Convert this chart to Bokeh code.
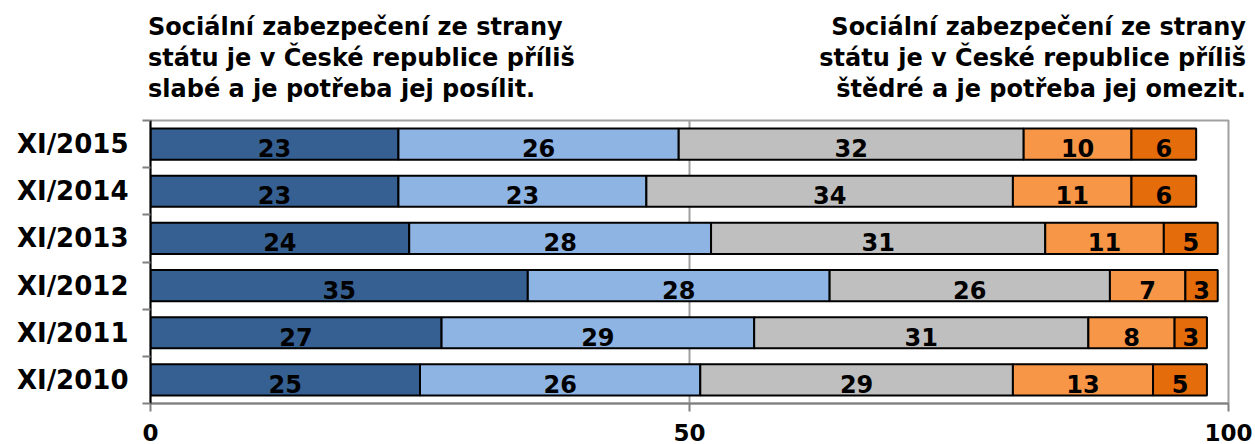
from bokeh.plotting import figure
from bokeh.models import FixedTicker, ColumnDataSource, Div
from bokeh.layouts import column
from bokeh.embed import file_html
from bokeh.resources import INLINE
from bokeh.core.properties import value

categories = ["XI/2015", "XI/2014", "XI/2013", "XI/2012", "XI/2011", "XI/2010"]
s1 = [23, 23, 24, 35, 27, 25]
s2 = [26, 23, 28, 28, 29, 26]
s3 = [32, 34, 31, 26, 31, 29]
s4 = [10, 11, 11, 7, 8, 13]
s5 = [6, 6, 5, 3, 3, 5]
series = [s1, s2, s3, s4, s5]
colors = ["#376092", "#8EB4E3", "#BFBFBF", "#F79646", "#E46C0A"]
x_ticks = [0, 50, 100]
title_left = ["Sociální zabezpečení ze strany",
              "státu je v České republice příliš",
              "slabé a je potřeba jej posílit."]
title_right = ["Sociální zabezpečení ze strany",
               "státu je v České republice příliš",
               "štědré a je potřeba jej omezit."]

FONT = "DejaVu Sans"

W = 1255
DIV_H = 118
FIG_H = 444 - DIV_H
BL, BR, BT, BB = 150, 27, 2, 41

n = len(categories)
ys = [n - i - 0.5 for i in range(n)]
bounds = list(range(n + 1))

p = figure(width=W, height=FIG_H, x_range=(0, 100), y_range=(0, n),
           output_backend="svg", toolbar_location=None,
           min_border_left=BL, min_border_right=BR,
           min_border_top=BT, min_border_bottom=BB, margin=0)

p.background_fill_color = "white"
p.outline_line_color = "#A0A0A0"
p.outline_line_width = 2

left = [0] * n
for vals, col in zip(series, colors):
    right = [l + v for l, v in zip(left, vals)]
    src = ColumnDataSource(dict(
        y=ys, left=left, right=right,
        mid=[(l + r) / 2 for l, r in zip(left, right)],
        txt=[str(v) for v in vals]))
    p.hbar(y="y", left="left", right="right", height=0.66, source=src,
           fill_color=col, line_color="black", line_width=2)
    p.text(x="mid", y="y", text="txt", source=src, text_align="center",
           text_baseline="middle", y_offset=4, text_font=value(FONT),
           text_font_style="bold", text_font_size="24px", text_color="black")
    left = right

# x axis
p.xaxis.ticker = FixedTicker(ticks=x_ticks)
p.xaxis.major_tick_in = 0
p.xaxis.major_tick_out = 8
p.xaxis.major_tick_line_color = "#808080"
p.xaxis.major_tick_line_width = 2
p.xaxis.axis_line_color = "#808080"
p.xaxis.axis_line_width = 2
p.xaxis.minor_tick_line_color = None
p.xaxis.major_label_standoff = 12
p.xaxis.major_label_text_font = FONT
p.xaxis.major_label_text_font_style = "bold"
p.xaxis.major_label_text_font_size = "23px"
p.xaxis.major_label_text_color = "black"

# y axis
p.yaxis.ticker = FixedTicker(ticks=ys, minor_ticks=bounds)
p.yaxis.major_label_overrides = {y: c for y, c in zip(ys, categories)}
p.yaxis.major_tick_in = 0
p.yaxis.major_tick_out = 0
p.yaxis.minor_tick_in = 0
p.yaxis.minor_tick_out = 8
p.yaxis.minor_tick_line_color = "#808080"
p.yaxis.minor_tick_line_width = 2
p.yaxis.axis_line_color = "black"
p.yaxis.axis_line_width = 2
p.yaxis.major_label_standoff = 14
p.yaxis.major_label_text_font = FONT
p.yaxis.major_label_text_font_style = "bold"
p.yaxis.major_label_text_font_size = "26px"
p.yaxis.major_label_text_color = "black"

p.xgrid.ticker = FixedTicker(ticks=x_ticks)
p.xgrid.grid_line_color = "#A0A0A0"
p.xgrid.grid_line_width = 2
p.ygrid.grid_line_color = None

block = ("position:absolute;top:12px;line-height:31px;white-space:nowrap;"
         "font-family:'DejaVu Sans';font-weight:bold;font-size:24px;color:black;")
html = (
    '<div style="position:relative;width:%dpx;height:%dpx;">' % (W, DIV_H)
    + '<div style="%sleft:148px;text-align:left;">%s</div>' % (block, "<br>".join(title_left))
    + '<div style="%sright:9px;text-align:right;">%s</div>' % (block, "<br>".join(title_right))
    + '</div>'
)
div = Div(text=html, width=W, height=DIV_H, margin=0)

layout = column(div, p, spacing=0, margin=0)

open("out.html", "w").write(file_html(layout, INLINE))
